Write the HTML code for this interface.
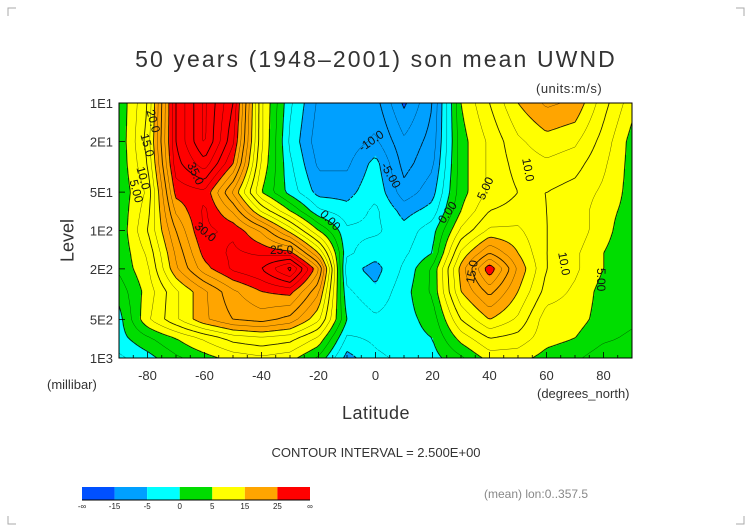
<!DOCTYPE html>
<html><head><meta charset="utf-8">
<style>
body{margin:0;background:#fff;}
#wrap{position:relative;width:752px;height:532px;overflow:hidden;background:#fff;font-family:"Liberation Sans",sans-serif;color:#222;}
.t{position:absolute;white-space:nowrap;}
.cl{position:absolute;white-space:nowrap;font-size:12px;color:#111;transform-origin:left top;}
</style></head>
<body>
<div id="wrap">
<canvas id="fill" width="513" height="255" style="position:absolute;left:119px;top:103px;"></canvas>
<svg id="svg" width="752" height="532" style="position:absolute;left:0;top:0;"></svg>
<div class="t" style="left:0;width:752px;text-align:center;top:46px;font-size:23px;letter-spacing:2.1px;color:#333;">50 years (1948–2001) son mean UWND</div>
<div class="t" style="left:536px;top:81px;font-size:13px;color:#333;letter-spacing:0.5px;">(units:m/s)</div>
<div class="t" style="left:38px;top:230px;font-size:18px;transform:rotate(-90deg);transform-origin:center;width:60px;text-align:center;color:#333;">Level</div>
<div class="t" style="left:47px;top:377px;font-size:13px;color:#333;">(millibar)</div>
<div class="t" style="left:0;width:752px;text-align:center;top:403px;font-size:18px;color:#333;letter-spacing:0.5px;">Latitude</div>
<div class="t" style="left:537px;top:386px;font-size:13px;color:#333;">(degrees_north)</div>
<div class="t" style="left:0;width:752px;text-align:center;top:445px;font-size:13px;color:#333;">CONTOUR INTERVAL = 2.500E+00</div>
<div class="t" style="left:484px;top:487px;font-size:12px;color:#888;">(mean) lon:0..357.5</div>
<div class="cl" style="left:157px;top:108px;transform:rotate(75deg);">20.0</div>
<div class="cl" style="left:151px;top:132px;transform:rotate(75deg);">15.0</div>
<div class="cl" style="left:147px;top:165px;transform:rotate(75deg);">10.0</div>
<div class="cl" style="left:140px;top:178px;transform:rotate(75deg);">5.00</div>
<div class="cl" style="left:197px;top:160px;transform:rotate(65deg);">35.0</div>
<div class="cl" style="left:201px;top:219px;transform:rotate(40deg);">30.0</div>
<div class="cl" style="left:270px;top:243px;">25.0</div>
<div class="cl" style="left:327px;top:207px;transform:rotate(45deg);">0.00</div>
<div class="cl" style="left:356px;top:143px;transform:rotate(-35deg);">-10.0</div>
<div class="cl" style="left:390px;top:160px;transform:rotate(60deg);">-5.00</div>
<div class="cl" style="left:435px;top:218px;transform:rotate(-55deg);">0.00</div>
<div class="cl" style="left:474px;top:196px;transform:rotate(-65deg);">5.00</div>
<div class="cl" style="left:533px;top:157px;transform:rotate(80deg);">10.0</div>
<div class="cl" style="left:463px;top:282px;transform:rotate(-80deg);">15.0</div>
<div class="cl" style="left:569px;top:251px;transform:rotate(80deg);">10.0</div>
<div class="cl" style="left:608px;top:268px;transform:rotate(90deg);">5.00</div>
</div>
<script>
const lats=[-90,-80,-70,-60,-50,-40,-30,-20,-10,0,10,20,30,40,50,60,70,80,90];
const levels=[10,20,30,50,70,100,150,200,300,500,700,1000];
const u10 =[3,10,30,38,30,8,-2,-8,-9,-9,-15.5,-10,5,10,15,18,17,11,6];
const u20 =[3,11,30,38,28,8,-3,-9,-9,-7,-12,-9,4,8,12,14,13,9,4];
const u30 =[3,10,29,34,25,7,-2,-8,-8,-4,-11,-8,4,8,11,12,11,8,4];
const u50 =[3,8,26,27,17,5,-1,-6,-6,-3,-9,-6,4,8,10,10,9,7,4];
const u70 =[3,9,23,28,22,12,5,-2,-4,-2,-6,-4,5,10,11,10,9,6,4];
const u100=[3,10,20,28,27,22,14,5,-2,-2,-4,-1,8,13,13,10,9,6,3];
const u150=[3,8,18,26,28,27,26,15,-2,-4,-3,0,13,20,15,10,8,5,3];
const u200=[3,7,17,24,28,30,36,23,-4,-6,-2,3,16,27,17,10,8,5,3];
const u300=[1,6,12,17,22,25,26,18,-2,-4.5,-1,3,15,21,15,9,7,4,3];
const u500=[-1,7,12,17,20,21,19,13,0,-2,-1,1,10,15,12,6,6,4,3];
const u700=[-1,2,5,8,11,12,11,7,-3,-2,-1,0,6,10,9,6,5,3,2];
const u1000=[-3,-1,2,4,6,7,6,2,-6,-3,-2,-1,2,6,6,4,3,1,1];
const rows=[u10,u20,u30,u50,u70,u100,u150,u200,u300,u500,u700,u1000];
const binEdges=[-15,-5,0,5,15,25];
const binColors=["#0050ff","#00a0ff","#00ffff","#00dd00","#ffff00","#ffa500","#ff0000"];
const cbLabels=["-∞","-15","-5","0","5","15","25","∞"];
const xTicks=[-80,-60,-40,-20,0,20,40,60,80];
const yTicks=[[10,"1E1"],[20,"2E1"],[50,"5E1"],[100,"1E2"],[200,"2E2"],[500,"5E2"],[1000,"1E3"]];

const X0=119,X1=632,Y0=103,Y1=358;
function xs(lat){return X0+(lat+90)/180*(X1-X0);}
function ys(p){return Y0+(Math.log10(p)-1)/2*(Y1-Y0);}
function latOf(x){return (x-X0)/(X1-X0)*180-90;}
function lpOf(y){return 1+(y-Y0)/(Y1-Y0)*2;}
const lpl=levels.map(p=>Math.log10(p));
function val(lat,lp){
  let i=Math.min(17,Math.max(0,Math.floor((lat+90)/10)));
  let fx=Math.min(1,Math.max(0,(lat-lats[i])/10));
  let j=0;while(j<levels.length-2&&lp>lpl[j+1])j++;
  let fy=Math.min(1,Math.max(0,(lp-lpl[j])/(lpl[j+1]-lpl[j])));
  const a=rows[j][i],b=rows[j][i+1],c=rows[j+1][i],d=rows[j+1][i+1];
  return (a*(1-fx)+b*fx)*(1-fy)+(c*(1-fx)+d*fx)*fy;
}
function colorOf(v){let k=0;while(k<binEdges.length&&v>=binEdges[k])k++;return binColors[k];}
function hex(c){return [parseInt(c.substr(1,2),16),parseInt(c.substr(3,2),16),parseInt(c.substr(5,2),16)];}
const cv=document.getElementById('fill'),ctx=cv.getContext('2d');
const W=cv.width,H=cv.height,img=ctx.createImageData(W,H);
for(let py=0;py<H;py++){const lp=lpOf(Y0+py+0.5);
 for(let px=0;px<W;px++){const v=val(latOf(X0+px+0.5),lp);const c=hex(colorOf(v));const o=(py*W+px)*4;
  img.data[o]=c[0];img.data[o+1]=c[1];img.data[o+2]=c[2];img.data[o+3]=255;}}
ctx.putImageData(img,0,0);

const NS="http://www.w3.org/2000/svg",svg=document.getElementById('svg');
function mk(tag,at){const e=document.createElementNS(NS,tag);for(const k in at)e.setAttribute(k,at[k]);svg.appendChild(e);return e;}
const S=3,nx=Math.floor((X1-X0)/S)+1,ny=Math.floor((Y1-Y0)/S)+1;
const G=[];for(let j=0;j<ny;j++){G.push([]);const lp=lpOf(Y0+j*S);for(let i=0;i<nx;i++)G[j].push(val(latOf(X0+i*S),lp));}
for(let L=-15;L<=37.5;L+=2.5){
 let d="";
 for(let j=0;j<ny-1;j++)for(let i=0;i<nx-1;i++){
  const v=[G[j][i],G[j][i+1],G[j+1][i+1],G[j+1][i]];
  const p=[[X0+i*S,Y0+j*S],[X0+(i+1)*S,Y0+j*S],[X0+(i+1)*S,Y0+(j+1)*S],[X0+i*S,Y0+(j+1)*S]];
  const pts=[];
  for(let e=0;e<4;e++){const a=v[e],b=v[(e+1)%4];
   if((a<L)!==(b<L)){const t=(L-a)/(b-a);const A=p[e],B=p[(e+1)%4];pts.push([A[0]+(B[0]-A[0])*t,A[1]+(B[1]-A[1])*t]);}}
  for(let k=0;k+1<pts.length;k+=2)d+="M"+pts[k][0].toFixed(1)+" "+pts[k][1].toFixed(1)+"L"+pts[k+1][0].toFixed(1)+" "+pts[k+1][1].toFixed(1);
 }
 const major=(L%5===0);
 const el=mk('path',{d:d,fill:'none',stroke:'#000','stroke-width':major?0.9:0.5,'stroke-opacity':major?0.85:0.6,'stroke-dasharray':L<0?'3,2':'none'});
 
 
}
const fr=mk('rect',{x:X0,y:Y0,width:X1-X0,height:Y1-Y0,fill:'none',stroke:'#000','stroke-width':1});

for(let lat=-90;lat<=90;lat+=5){const x=xs(lat);const big=lat%20===0;
 const t=mk('line',{x1:x,x2:x,y1:Y1,y2:Y1-(big?6:3),stroke:'#000','stroke-width':0.8});
 }
xTicks.forEach(v=>{const t=mk('text',{x:xs(v),y:Y1+22,'text-anchor':'middle','font-size':13,fill:'#333','font-family':'Liberation Sans, sans-serif'});t.textContent=v;
 });
yTicks.forEach(([p,l])=>{const y=ys(p);
 const t=mk('line',{x1:X0,x2:X0+6,y1:y,y2:y,stroke:'#000','stroke-width':0.8});
 
 const tx=mk('text',{x:X0-6,y:y+5,'text-anchor':'end','font-size':13,fill:'#333','font-family':'Liberation Sans, sans-serif'});tx.textContent=l;
 });
const cbX=82,cbW=228,cbY=487,cbH=13,seg=cbW/binColors.length;
binColors.forEach((c,k)=>{const r=mk('rect',{x:cbX+k*seg,y:cbY,width:seg,height:cbH,fill:c});
 });
const cbo=mk('line',{x1:cbX,x2:cbX+cbW,y1:cbY+cbH,y2:cbY+cbH,stroke:'#000','stroke-width':1});

cbLabels.forEach((l,k)=>{const t=mk('text',{x:cbX+k*seg,y:cbY+cbH+9,'text-anchor':'middle','font-size':8,fill:'#222','font-family':'Liberation Sans, sans-serif'});t.textContent=l;
 });
[[8,8,1,1],[744,8,-1,1],[8,524,1,-1],[744,524,-1,-1]].forEach(([x,y,sx,sy])=>{
 const c=mk('path',{d:`M${x} ${y+sy*8}L${x} ${y}L${x+sx*8} ${y}`,fill:'none',stroke:'#aaa','stroke-width':1});
 });
</script>
</body></html>
